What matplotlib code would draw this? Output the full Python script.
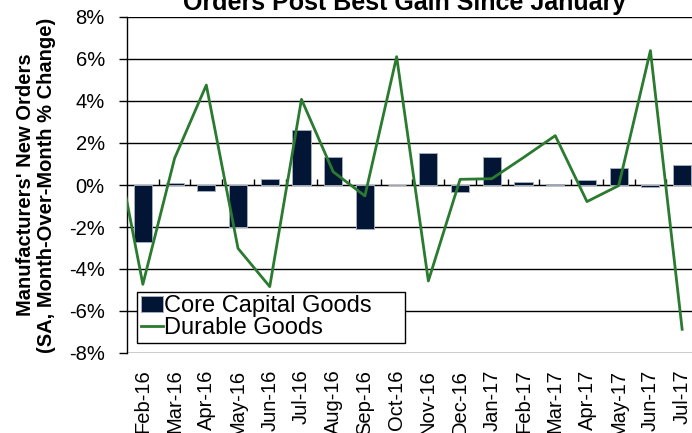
import numpy as np
import matplotlib
matplotlib.use('Agg')
import matplotlib.pyplot as plt
from matplotlib.ticker import FuncFormatter

plt.rcParams['font.family'] = ['Liberation Sans', 'DejaVu Sans']

months = ['Jan-16', 'Feb-16', 'Mar-16', 'Apr-16', 'May-16', 'Jun-16', 'Jul-16',
          'Aug-16', 'Sep-16', 'Oct-16', 'Nov-16', 'Dec-16', 'Jan-17', 'Feb-17',
          'Mar-17', 'Apr-17', 'May-17', 'Jun-17', 'Jul-17']
core_capital = [np.nan, -2.7, 0.1, -0.27, -2.0, 0.29, 2.63, 1.35, -2.1, 0.0,
                1.52, -0.35, 1.32, 0.14, 0.05, 0.25, 0.79, -0.11, 0.95]
durable = [3.1, -4.73, 1.27, 4.76, -3.02, -4.84, 4.08, 0.63, -0.52, 6.11,
           -4.57, 0.27, 0.3, 1.31, 2.35, -0.79, -0.03, 6.4, -6.87]

x = np.arange(len(months))

fig = plt.figure(figsize=(6.92, 4.33), dpi=100)
ax = fig.add_axes([127 / 692, 1 - 353 / 433, 571 / 692, 336 / 433])

bars = ax.bar(x, core_capital, width=0.57, color='#021535', edgecolor='#a3acbb',
              linewidth=0.7, label='Core Capital Goods', zorder=2)
line, = ax.plot(x, durable, color='#2a7a30', lw=2, label='Durable Goods', zorder=3)

ax.set_ylim(-8, 8)
ax.set_yticks(np.arange(-8, 9, 2))
ax.yaxis.set_major_formatter(FuncFormatter(lambda v, p: f'{v:.0f}%'))
ax.yaxis.grid(True, color='black', lw=1)
ax.set_axisbelow(True)

ax.set_xticks(x)
ax.set_xticklabels(months, rotation=90, fontsize=14.5)
ax.tick_params(axis='x', length=0, pad=12)
ax.tick_params(axis='y', labelsize=14.5, length=6, width=1, pad=10)

for s in ['top', 'right', 'bottom']:
    ax.spines[s].set_visible(False)
ax.spines['left'].set_linewidth(1)

# category separator ticks along the zero line
sec = ax.secondary_xaxis(0.5)
sec.set_xticks(x[1:-1] + 0.5)
sec.tick_params(axis='x', length=4, width=1, direction='out', labelbottom=False)
sec.set_xticklabels([])
sec.spines['bottom'].set_visible(False)

ax.set_xlim(0.5, len(months) - 0.5)

ax.set_ylabel("Manufacturers' New Orders\n(SA, Month-Over-Month % Change)",
              fontsize=14.5, fontweight='bold', linespacing=1.15)
ax.yaxis.set_label_coords(-0.124, 0.5)

leg = ax.legend([bars, line], ['Core Capital Goods', 'Durable Goods'],
                loc='lower left', bbox_to_anchor=(0.0175, 0.03, 0.469, 0.137),
                mode='expand', alignment='center', borderaxespad=0,
                fontsize=17, fancybox=False, edgecolor='black',
                framealpha=1, handlelength=0.95, handletextpad=0.05,
                labelspacing=0.0, borderpad=0.15)
leg.get_frame().set_linewidth(1)

fig.text(405 / 692, 1 - 10 / 433, 'Orders Post Best Gain Since January',
         ha='center', va='baseline', fontsize=18, fontweight='bold')

fig.savefig('out.png', dpi=100)
